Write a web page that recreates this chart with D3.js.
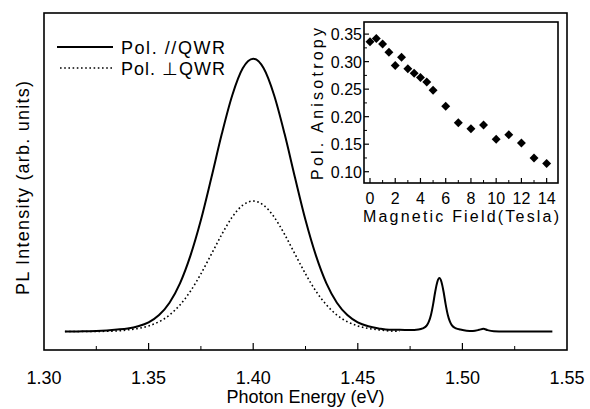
<!DOCTYPE html>
<html><head><meta charset="utf-8">
<script src="https://cdn.jsdelivr.net/npm/d3@7"></script>
<style>
body{margin:0;background:#fff;}
text{font-family:"Liberation Sans",Arial,sans-serif;fill:#000;}
</style></head>
<body>
<svg id="c" width="590" height="409"></svg>
<script>
// ---- main spectrum data (photon energy eV, PL intensity arb. units) ----
const energyPar = [1.310,1.315,1.320,1.325,1.330,1.335,1.340,1.345,1.350,1.355,1.360,1.365,1.370,1.375,1.380,1.385,1.390,1.395,1.400,1.405,1.410,1.415,1.420,1.425,1.430,1.435,1.440,1.445,1.450,1.455,1.460,1.465,1.470,1.475,1.479,1.481,1.483,1.484,1.485,1.486,1.487,1.488,1.489,1.490,1.491,1.492,1.493,1.494,1.495,1.497,1.499,1.502,1.505,1.508,1.510,1.512,1.515,1.520,1.525,1.530,1.535,1.540,1.543];
const intensityPar = [0.066,0.066,0.067,0.068,0.070,0.073,0.077,0.085,0.099,0.125,0.169,0.238,0.337,0.464,0.615,0.772,0.910,1.006,1.040,1.006,0.910,0.772,0.615,0.464,0.337,0.238,0.169,0.125,0.099,0.085,0.077,0.072,0.072,0.071,0.073,0.077,0.088,0.102,0.126,0.163,0.208,0.243,0.257,0.243,0.208,0.163,0.126,0.102,0.088,0.077,0.073,0.069,0.068,0.072,0.076,0.071,0.067,0.066,0.066,0.066,0.066,0.066,0.066];
const energyPerp = [1.310,1.320,1.330,1.335,1.340,1.345,1.350,1.355,1.360,1.365,1.370,1.375,1.380,1.385,1.390,1.395,1.400,1.405,1.410,1.415,1.420,1.425,1.430,1.435,1.440,1.445,1.450,1.455,1.460,1.465,1.470];
const intensityPerp = [0.066,0.066,0.067,0.068,0.072,0.077,0.086,0.101,0.125,0.161,0.210,0.272,0.342,0.413,0.475,0.517,0.532,0.517,0.475,0.413,0.342,0.272,0.210,0.161,0.125,0.101,0.086,0.077,0.072,0.068,0.067];
const xTicks = [1.30,1.35,1.40,1.45,1.50,1.55];
const legendLabels = ["Pol. //QWR","Pol. \u22A5QWR"];

// ---- inset data ----
const field = [0,0.5,1,1.5,2,2.5,3,3.5,4,4.5,5,6,7,8,9,10,11,12,13,14];
const anisotropy = [0.336,0.342,0.332,0.317,0.293,0.308,0.287,0.279,0.271,0.263,0.248,0.219,0.189,0.178,0.185,0.159,0.167,0.152,0.125,0.115];
const insetXTicks = [0,2,4,6,8,10,12,14];
const insetYTicks = [0.10,0.15,0.20,0.25,0.30,0.35];

const svg = d3.select("#c");

// ---- main plot ----
const M = {l:44, r:567, t:13, b:350};
const x = d3.scaleLinear().domain([1.30,1.55]).range([M.l, M.r]);
const y = d3.scaleLinear().domain([0,1.2]).range([M.b, 14]);

svg.append("rect").attr("x",M.l).attr("y",M.t).attr("width",M.r-M.l).attr("height",M.b-M.t)
  .attr("fill","none").attr("stroke","#000").attr("stroke-width",1.6);

// x ticks (inward)
const xMinor = d3.range(1.325,1.55,0.05);
svg.append("g").selectAll("line").data(xTicks.slice(1,-1)).join("line")
  .attr("x1",d=>x(d)).attr("x2",d=>x(d)).attr("y1",M.b).attr("y2",M.b-7)
  .attr("stroke","#000").attr("stroke-width",1.2);
svg.append("g").selectAll("line").data(xMinor).join("line")
  .attr("x1",d=>x(d)).attr("x2",d=>x(d)).attr("y1",M.b).attr("y2",M.b-4)
  .attr("stroke","#000").attr("stroke-width",1);
svg.append("g").selectAll("text").data(xTicks).join("text")
  .attr("x",d=>x(d)).attr("y",M.b+34).attr("text-anchor","middle")
  .attr("font-size",18).text(d=>d.toFixed(2));
svg.append("text").attr("x",(M.l+M.r)/2).attr("y",403).attr("text-anchor","middle")
  .attr("font-size",18).text("Photon Energy (eV)");
svg.append("text").attr("transform","translate(29,188) rotate(-90)").attr("text-anchor","middle")
  .attr("font-size",18).attr("textLength",214).attr("lengthAdjust","spacing").text("PL Intensity (arb. units)");

const line = d3.line().x(d=>x(d[0])).y(d=>y(d[1])).curve(d3.curveMonotoneX);
svg.append("path").datum(d3.zip(energyPerp,intensityPerp)).attr("d",line)
  .attr("fill","none").attr("stroke","#000").attr("stroke-width",1.6).attr("stroke-dasharray","1.6,2.6");
svg.append("path").datum(d3.zip(energyPar,intensityPar)).attr("d",line)
  .attr("fill","none").attr("stroke","#000").attr("stroke-width",2);

// legend
const lg = svg.append("g");
lg.append("line").attr("x1",57).attr("x2",113).attr("y1",47).attr("y2",47).attr("stroke","#000").attr("stroke-width",2);
lg.append("line").attr("x1",60).attr("x2",113).attr("y1",68).attr("y2",68).attr("stroke","#000").attr("stroke-width",1.6).attr("stroke-dasharray","1.6,2.6");
lg.selectAll("text").data(legendLabels).join("text")
  .attr("x",121).attr("y",(d,i)=>54+i*21).attr("font-size",18)
  .attr("textLength",104).attr("lengthAdjust","spacing").text(d=>d);

// ---- inset ----
const I = {l:364, r:558, t:22, b:183};
const xi = d3.scaleLinear().domain([-0.475,14.9]).range([I.l,I.r]);
const yi = d3.scaleLinear().domain([0.0795,0.372]).range([I.b,I.t]);
svg.append("rect").attr("x",I.l).attr("y",I.t).attr("width",I.r-I.l).attr("height",I.b-I.t)
  .attr("fill","#fff").attr("stroke","#000").attr("stroke-width",1.6);
const xiMinor = d3.range(1,15,2);
svg.append("g").selectAll("line").data(insetXTicks).join("line")
  .attr("x1",d=>xi(d)).attr("x2",d=>xi(d)).attr("y1",I.b).attr("y2",I.b-5).attr("stroke","#000").attr("stroke-width",1.2);
svg.append("g").selectAll("line").data(xiMinor).join("line")
  .attr("x1",d=>xi(d)).attr("x2",d=>xi(d)).attr("y1",I.b).attr("y2",I.b-3).attr("stroke","#000").attr("stroke-width",1);
const yiMinor = d3.range(0.125,0.36,0.05);
svg.append("g").selectAll("line").data(insetYTicks).join("line")
  .attr("x1",I.l).attr("x2",I.l+5).attr("y1",d=>yi(d)).attr("y2",d=>yi(d)).attr("stroke","#000").attr("stroke-width",1.2);
svg.append("g").selectAll("line").data(yiMinor).join("line")
  .attr("x1",I.l).attr("x2",I.l+3).attr("y1",d=>yi(d)).attr("y2",d=>yi(d)).attr("stroke","#000").attr("stroke-width",1);
svg.append("g").selectAll("text").data(insetXTicks).join("text")
  .attr("x",d=>xi(d)).attr("y",I.b+21).attr("text-anchor","middle").attr("font-size",16).text(d=>d);
svg.append("g").selectAll("text").data(insetYTicks).join("text")
  .attr("x",I.l-2).attr("y",d=>yi(d)+6).attr("text-anchor","end").attr("font-size",16).text(d=>d.toFixed(2));
svg.append("text").attr("x",(I.l+I.r)/2).attr("y",I.b+39).attr("text-anchor","middle")
  .attr("font-size",16).attr("textLength",196).attr("lengthAdjust","spacing").text("Magnetic Field(Tesla)");
svg.append("text").attr("transform","translate(323,104) rotate(-90)").attr("text-anchor","middle")
  .attr("font-size",16).attr("textLength",152).attr("lengthAdjust","spacing").text("Pol. Anisotropy");
svg.append("g").selectAll("path").data(d3.zip(field,anisotropy)).join("path")
  .attr("d",d3.symbol(d3.symbolSquare,40)())
  .attr("transform",d=>`translate(${xi(d[0])},${yi(d[1])}) rotate(45)`).attr("fill","#000");
</script>
</body></html>
